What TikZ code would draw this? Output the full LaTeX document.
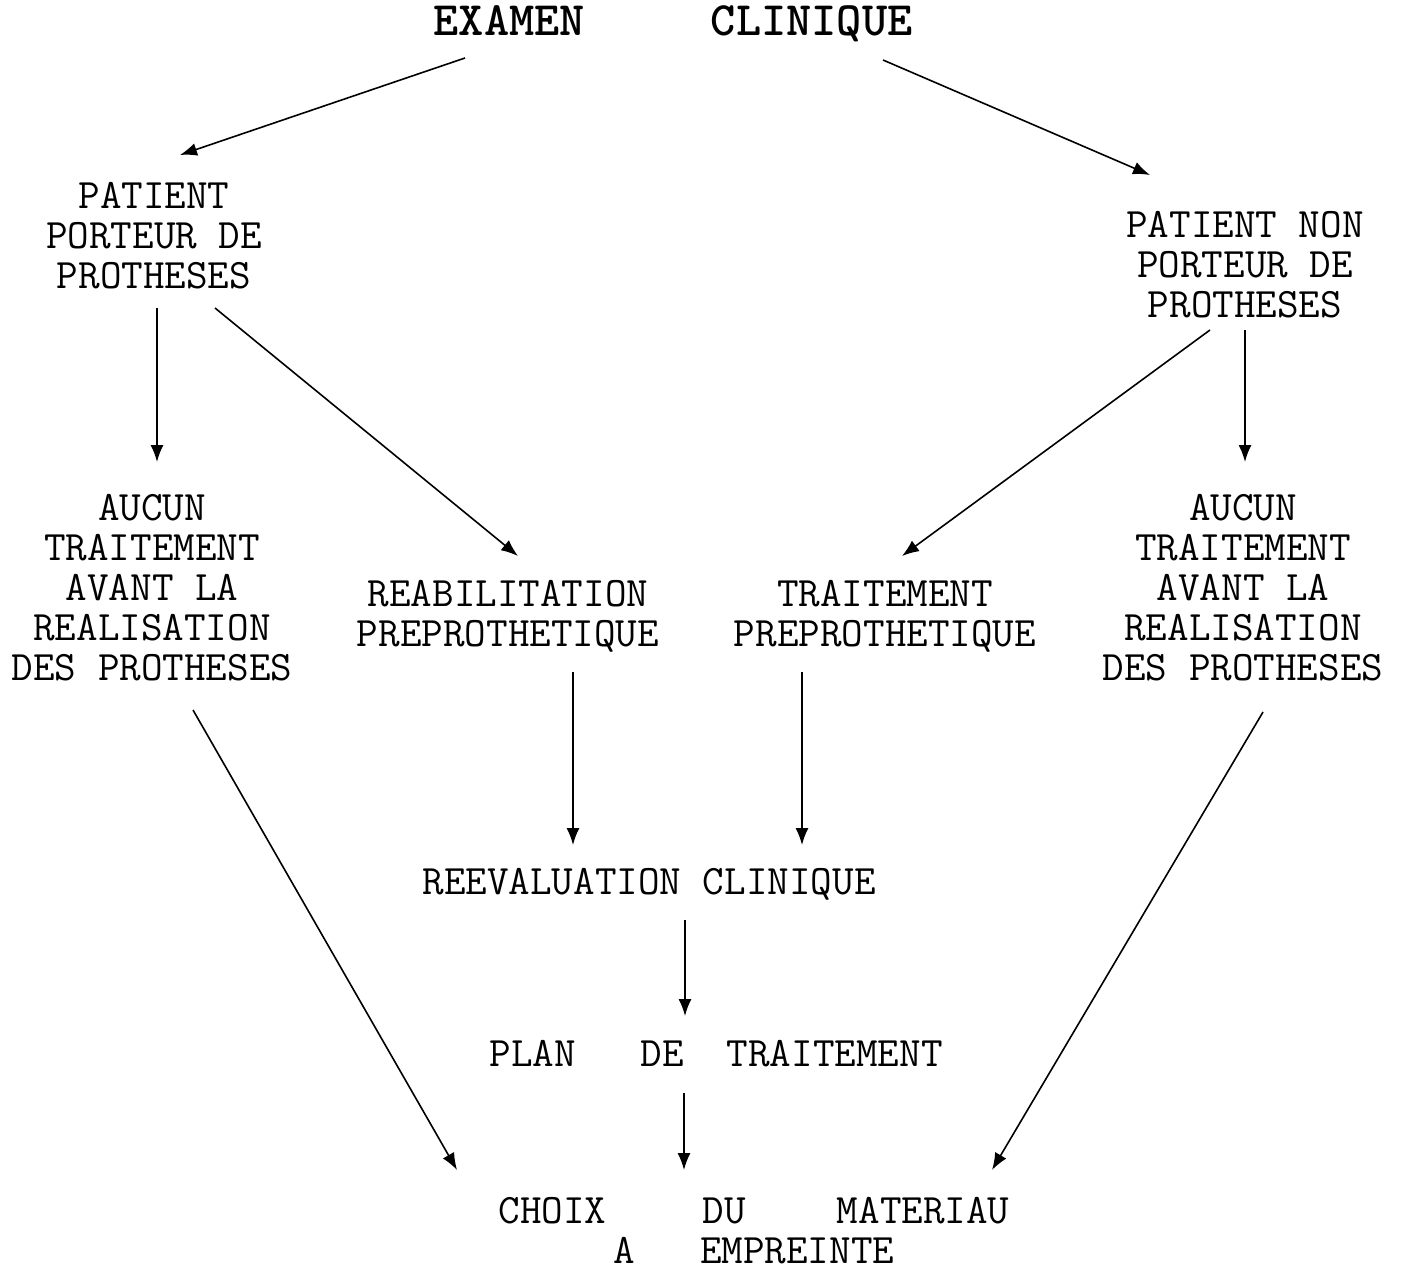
\documentclass[tikz,border=0pt]{standalone}
\usepackage{fontspec}
\usetikzlibrary{arrows.meta}
\begin{document}
\begin{tikzpicture}[x=1pt, y=-1pt, line join=round, line width=1.6pt,
  >={Latex[length=17pt,width=13pt]},
  box/.style={align=center, inner sep=0pt, font=\fontsize{41.9}{40}\ttfamily},
  head/.style={inner sep=0pt, anchor=base, font=\fontsize{48}{50}\ttfamily\bfseries}]
			\useasboundingbox (0,0) rectangle (1405,1271);
			\node[head] (title) at (673,36) {EXAMEN~~~~~CLINIQUE};
			\node[box] (p1) at (154,236) {PATIENT\\PORTEUR DE\\PROTHESES};
			\node[box] (p2) at (1245,265) {PATIENT NON\\PORTEUR DE\\PROTHESES};
			\node[box] (a1) at (152,588) {AUCUN\\TRAITEMENT\\AVANT LA\\REALISATION\\DES PROTHESES};
			\node[box] (a2) at (1243,588) {AUCUN\\TRAITEMENT\\AVANT LA\\REALISATION\\DES PROTHESES};
			\node[box] (reab) at (508,616) {REABILITATION\\PREPROTHETIQUE};
			\node[box] (trt) at (885,616) {TRAITEMENT\\PREPROTHETIQUE};
			\node[box, anchor=base] (reev) at (649,894.5) {REEVALUATION CLINIQUE};
			\node[box, anchor=base] (plan) at (716,1066.5) {PLAN~~~DE~~TRAITEMENT};
			\node[box] (choix) at (754,1231) {CHOIX\hspace{2.3em}DU\hspace{2.17em}MATERIAU\\A~~~EMPREINTE};
			% arrows
			\draw[->] ([shift={(-208,22)}]title.base)--([shift={(26,-81)}]p1.center);
			\draw[->] ([shift={(210,24)}]title.base)--([shift={(-95,-90)}]p2.center);
			\draw[->] ([shift={(3,72)}]p1.center)--([shift={(5,-126)}]a1.center);
			\draw[->] ([shift={(61,72)}]p1.center)--([shift={(10,-60)}]reab.center);
			\draw[->] ([shift={(-35,65)}]p2.center)--([shift={(17,-60)}]trt.center);
			\draw[->] ([shift={(0,65)}]p2.center)--([shift={(2,-126)}]a2.center);
			\draw[->] ([shift={(65,56)}]reab.center)--([shift={(-76,-49.5)}]reev.base);
			\draw[->] ([shift={(-83,56)}]trt.center)--([shift={(153,-49.5)}]reev.base);
			\draw[->] ([shift={(41,122)}]a1.center)--([shift={(-297,-61)}]choix.center);
			\draw[->] ([shift={(20,124)}]a2.center)--([shift={(238,-61)}]choix.center);
			\draw[->] ([shift={(36,25.5)}]reev.base)--([shift={(-31,-50.5)}]plan.base);
			\draw[->] ([shift={(-32,26.5)}]plan.base)--([shift={(-70,-61)}]choix.center);
\end{tikzpicture}
\end{document}
